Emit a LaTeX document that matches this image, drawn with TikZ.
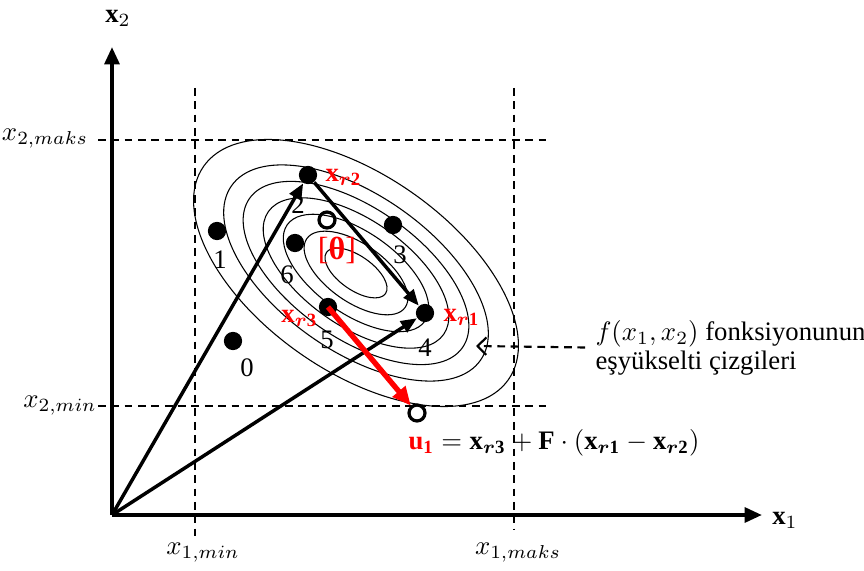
\RequirePackage{fix-cm}
\documentclass[tikz,border=0pt]{standalone}
\usepackage{amsmath}
\usepackage{fontspec}
\setmainfont{Liberation Serif}
\definecolor{dered}{HTML}{FF0000}
\usepackage{tikz}
\usetikzlibrary{arrows.meta, positioning, calc}
\newcommand{\xr}[1]{\mathbf{x}_{\boldsymbol{r}\mathbf{#1}}}

\begin{document}
\begin{tikzpicture}[
    x=1.316cm, y=1.316cm,
    font=\fontsize{10}{10.8}\selectfont,
    dot/.style={circle, fill=black, inner sep=0pt, minimum size=0.24cm},
    hollow/.style={circle, draw=black, line width=1.2pt, inner sep=0pt, minimum size=0.21cm},
    vec/.style={line width=1.3pt, -{Triangle[length=6pt, width=4.8pt]}},
    guide/.style={line width=0.6pt, dash pattern=on 2.9pt off 2.1pt},
    level/.style={line width=0.4pt},
    redlab/.style={text=dered, inner sep=0pt}
  ]
    \useasboundingbox (-1.12,-0.55) rectangle (7.52,5.15);

    \foreach \y in {3.75, 1.09} {
      \draw[guide] (-0.14,\y) -- (4.38,\y);
    }
    \draw[guide] (0.83,4.27) -- (0.83,-0.23);
    \draw[guide] (4.02,4.27) -- (4.02,-0.15);

    \foreach \a/\b in {0.36/0.17, 0.60/0.29, 0.84/0.41, 1.07/0.53,
                       1.30/0.65, 1.52/0.78, 1.86/0.98} {
      \draw[level, rotate around={-35:(2.44,2.42)}]
        (2.44,2.42) ellipse ({\a} and {\b});
    }

    \coordinate (O) at (0,0);
    \coordinate (ytip) at (0,4.68);
    \coordinate (xtip) at (6.50,0);
    \draw[line width=1.45pt, -{Triangle[length=6.5pt, width=5.5pt]}] (O) -- (ytip);
    \draw[line width=1.45pt, -{Triangle[length=6.5pt, width=5.5pt]}] (O) -- (xtip);
    \node (x2lab) at (0.06,4.97) {$\mathbf{x}_2$};
    \node (x1lab) at (6.73,-0.05) {$\mathbf{x}_1$};

    \node (x2max) at (-0.67,3.76) {$x_{2,maks}$};
    \node (x2min) at (-0.52,1.09) {$x_{2,min}$};
    \node (x1min) at (0.91,-0.38) {$x_{1,min}$};
    \node (x1max) at (4.06,-0.38) {$x_{1,maks}$};

    \node[dot] (r2) at (1.96,3.40) {};
    \node[dot] (r1) at (3.13,2.02) {};
    \node[dot] (r3) at (2.16,2.08) {};
    \node[dot] (p1) at (1.05,2.84) {};
    \node[dot] (p0) at (1.21,1.74) {};
    \node[dot] (p6) at (1.83,2.72) {};
    \node[dot] (p3) at (2.81,2.90) {};
    \node[hollow] (best) at (2.15,2.95) {};
    \node[hollow] (u1) at (3.05,1.02) {};

    \node (n0) at (1.35,1.47) {0};
    \node (n1) at (1.08,2.55) {1};
    \node (n2) at (1.86,3.10) {2};
    \node (n3) at (2.88,2.60) {3};
    \node (n4) at (3.13,1.67) {4};
    \node (n5) at (2.15,1.75) {5};
    \node (n6) at (1.75,2.40) {6};

    \draw[vec] (O) -- (r2);
    \draw[vec] (O) -- (r1);
    \draw[vec] (r2) -- (r1);
    \draw[line width=2pt, dered, -{Triangle[length=7pt, width=6pt]}]
      (r3.center) -- (u1);

    \node[redlab, anchor=west] (lr2) at (2.13,3.38) {$\xr{2}$};
    \node[redlab, anchor=west] (lr1) at (3.31,1.98) {$\xr{1}$};
    \node[redlab, anchor=east] (lr3) at (2.06,1.97) {$\xr{3}$};
    \node[redlab] (theta) at (2.25,2.65) {\large[\textbf{θ}]};

    \node[anchor=west, inner sep=0pt] (rule) at (2.96,0.72)
      {$\textcolor{dered}{\mathbf{u}_{\mathbf{1}}} = \xr{3} + \mathbf{F}\cdot(\xr{1} - \xr{2})$};

    \node[anchor=west, align=left, inner sep=0pt] (lvtext) at (4.83,1.675)
      {$f(x_1,x_2)$ fonksiyonunun\\eşyükselti çizgileri};
    \coordinate (lvtip) at (3.64,1.69);
    \draw[guide, line width=0.8pt, -{Straight Barb[length=3.3pt, width=6.5pt]}]
      ([xshift=-0.13cm]lvtext.west) -- (lvtip);
\end{tikzpicture}
\end{document}
